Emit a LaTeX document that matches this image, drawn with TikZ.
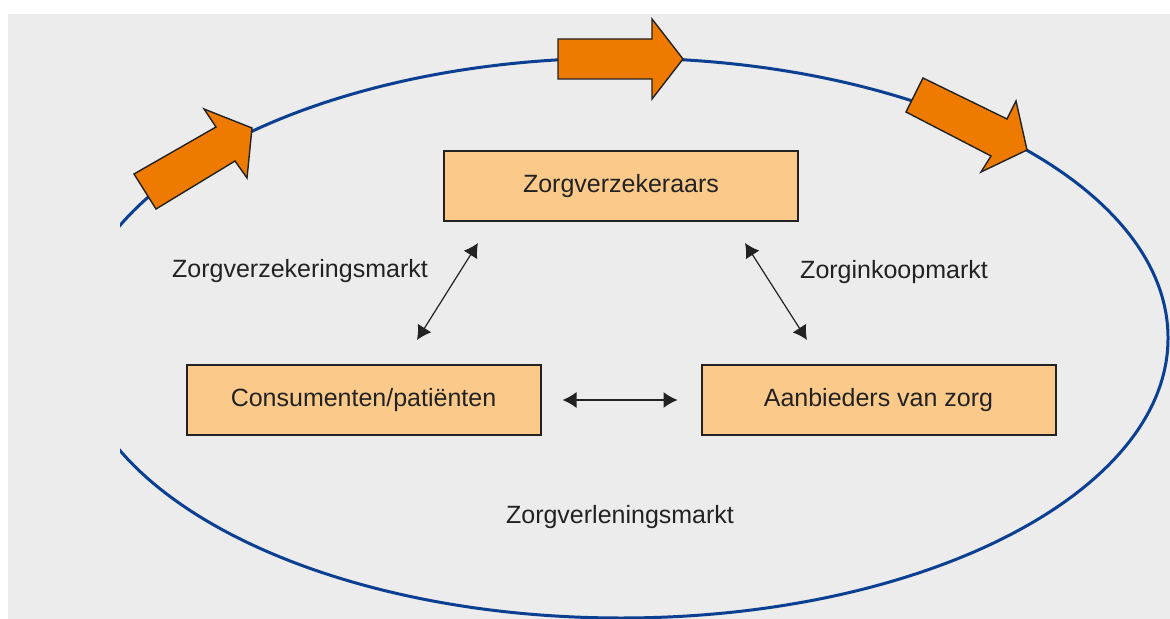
\documentclass[tikz,border=0pt]{standalone}
\usepackage{fontspec}
\setmainfont{Liberation Sans}
\usetikzlibrary{arrows.meta}

\definecolor{achtergrond}{HTML}{ECECEC}
\definecolor{ovaalblauw}{HTML}{0B3F91}
\definecolor{pijloranje}{HTML}{EE7A00}
\definecolor{vakoranje}{HTML}{FBCA8A}
\definecolor{rand}{HTML}{222222}

\tikzset{
  vak/.style={draw=rand, line width=1pt, fill=vakoranje, minimum width=177pt, minimum height=35pt, font=\fontsize{12.5}{15}\selectfont, text=rand},
  markt/.style={font=\fontsize{12.5}{15}\selectfont, text=rand},
  pijl/.style={{Latex[length=7pt,width=8pt]}-{Latex[length=7pt,width=8pt]}, line width=0.6pt, draw=rand},
  blokpijl/.style={draw=rand, line width=0.7pt, fill=pijloranje, line join=miter},
}

\begin{document}
\begin{tikzpicture}[x=0.5pt, y=-0.5pt]
  \useasboundingbox (0,0) rectangle (1170,619);
  \fill[achtergrond] (8,14) rectangle (1170,619);
  % ovaal
  \begin{scope}
    \clip (120,14) rectangle (1170,619);
    \draw[ovaalblauw, line width=1.5pt] (621,338) ellipse [x radius=547, y radius=280];
  \end{scope}
  % oranje pijlen
  \draw[blokpijl] (134,174) -- (156,209) -- (235,161) -- (247,178) -- (252,128) -- (204,109) -- (216,127) -- cycle;
  \draw[blokpijl] (558,39) -- (652,39) -- (652,19) -- (683,59) -- (652,99) -- (652,79) -- (558,79) -- cycle;
  \draw[blokpijl] (923,78) -- (1007,119) -- (1016,101) -- (1027,150) -- (981,172) -- (991,156) -- (906,112) -- cycle;
  % partijen
  \node[vak] (zv) at (621,186.5) {Zorgverzekeraars};
  \node[vak] (cp) at (363.5,400) {Consumenten/patiënten};
  \node[vak] (ab) at (878.5,400) {Aanbieders van zorg};
  % markten
  \node[markt] (vzm) at (300,271) {Zorgverzekeringsmarkt};
  \node[markt] (ikm) at (894,272) {Zorginkoopmarkt};
  \node[markt] (vlm) at (620,517) {Zorgverleningsmarkt};
  \coordinate (zvl) at (478,243);
  \coordinate (cpb) at (417,340);
  \coordinate (zvr) at (745,243);
  \coordinate (abb) at (807,340);
  \draw[pijl] (zvl) -- (cpb);
  \draw[pijl] (zvr) -- (abb);
  \draw[pijl, shorten <=10.5pt, shorten >=11.5pt] (cp.east) -- (ab.west);
\end{tikzpicture}
\end{document}
